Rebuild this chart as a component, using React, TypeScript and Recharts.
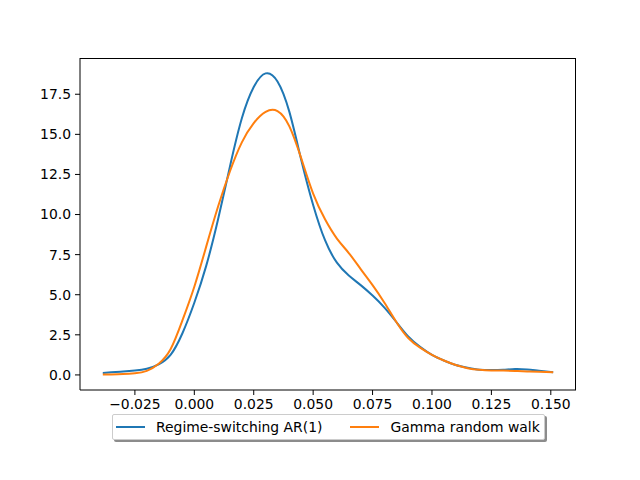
import React from "react";
import { LineChart, Line, XAxis, YAxis } from "recharts";

const xValues = [
  -0.0385, -0.035, -0.03, -0.025, -0.02, -0.015, -0.01, -0.005, 0, 0.005, 0.01,
  0.015, 0.02, 0.025, 0.03, 0.035, 0.04, 0.045, 0.05, 0.055,
  0.06, 0.065, 0.07, 0.075, 0.08, 0.085, 0.09, 0.095, 0.1, 0.105, 0.11, 0.115,
  0.12, 0.125, 0.13, 0.135, 0.14, 0.145, 0.151,
];

const regimeSwitching = [
  0.12, 0.16, 0.21, 0.27, 0.38, 0.66, 1.25, 2.6, 4.5, 6.8, 9.7, 13.0, 16.0, 17.95,
  18.8, 18.3, 16.4, 13.4, 10.6, 8.4, 7.0, 6.2, 5.6, 4.95, 4.2, 3.3,
  2.4, 1.75, 1.25, 0.9, 0.62, 0.45, 0.33, 0.3, 0.32, 0.37, 0.34, 0.26, 0.17,
];

const gammaWalk = [
  0.02, 0.03, 0.05, 0.1, 0.25, 0.7, 1.6, 3.4, 5.5, 8.0, 10.5, 12.7, 14.5, 15.7,
  16.4, 16.45, 15.5, 13.5, 11.3, 9.7, 8.5, 7.6, 6.6, 5.6, 4.5, 3.3,
  2.3, 1.7, 1.25, 0.9, 0.62, 0.42, 0.32, 0.28, 0.27, 0.25, 0.22, 0.2, 0.17,
];

const xTicks = [-0.025, 0, 0.025, 0.05, 0.075, 0.1, 0.125, 0.15];
const yTicks = [0, 2.5, 5, 7.5, 10, 12.5, 15, 17.5];

const seriesNames = ["Regime-switching AR(1)", "Gamma random walk"];
const seriesColors = ["#1f77b4", "#ff7f0e"];

const chartData = xValues.map((x, i) => ({
  x,
  regime: regimeSwitching[i],
  gamma: gammaWalk[i],
}));

const font = "'DejaVu Sans', sans-serif";
const tickStyle = { fill: "#000", fontSize: 13.9, fontFamily: font };

const fmtX = (v: number) => {
  const s = Math.abs(v).toFixed(3);
  return v < 0 ? `\u2212${s}` : s;
};

function LegendBox(): React.ReactElement {
  return (
    <div
      style={{
        position: "absolute",
        left: 112,
        top: 414,
        width: 433,
        height: 26,
        border: "1px solid #cccccc",
        borderRadius: 2,
        background: "#fff",
        boxShadow: "2px 2px 0 #8c8c8c",
        boxSizing: "border-box",
        display: "flex",
        alignItems: "center",
        fontFamily: font,
        fontSize: 13.9,
        color: "#000",
      }}
    >
      {seriesNames.map((name, i) => (
        <div
          key={name}
          style={{ display: "flex", alignItems: "center", marginLeft: i === 0 ? 3 : 28 }}
        >
          <span
            style={{
              display: "inline-block",
              width: 29,
              height: 2,
              background: seriesColors[i],
              marginRight: 11,
            }}
          />
          <span>{name}</span>
        </div>
      ))}
    </div>
  );
}

export default function App(): React.ReactElement {
  return (
    <div style={{ position: "relative", width: 640, height: 480, background: "#fff" }}>
      <style>{"body{margin:0}"}</style>
      <LineChart
        width={640}
        height={480}
        data={chartData}
        margin={{ top: 58, right: 64, bottom: 60, left: 0 }}
      >
        <XAxis
          dataKey="x"
          type="number"
          domain={[-0.0481, 0.1606]}
          ticks={xTicks}
          tickFormatter={fmtX}
          allowDataOverflow
          height={30}
          stroke="#000"
          tick={tickStyle}
          tickSize={5}
          tickMargin={4}
        />
        <YAxis
          type="number"
          domain={[-0.94, 19.76]}
          ticks={yTicks}
          tickFormatter={(v: number) => v.toFixed(1)}
          allowDataOverflow
          width={80}
          stroke="#000"
          tick={tickStyle}
          tickSize={5}
          tickMargin={4}
        />
        <Line
          type="natural"
          dataKey="regime"
          name={seriesNames[0]}
          stroke={seriesColors[0]}
          strokeWidth={2}
          dot={false}
          isAnimationActive={false}
        />
        <Line
          type="natural"
          dataKey="gamma"
          name={seriesNames[1]}
          stroke={seriesColors[1]}
          strokeWidth={2}
          dot={false}
          isAnimationActive={false}
        />
      </LineChart>
      {/* top and right spines */}
      <div
        style={{
          position: "absolute",
          left: 80,
          top: 58,
          width: 496,
          height: 332,
          borderTop: "1px solid #000",
          borderRight: "1px solid #000",
          boxSizing: "border-box",
          pointerEvents: "none",
        }}
      />
      <LegendBox />
    </div>
  );
}
